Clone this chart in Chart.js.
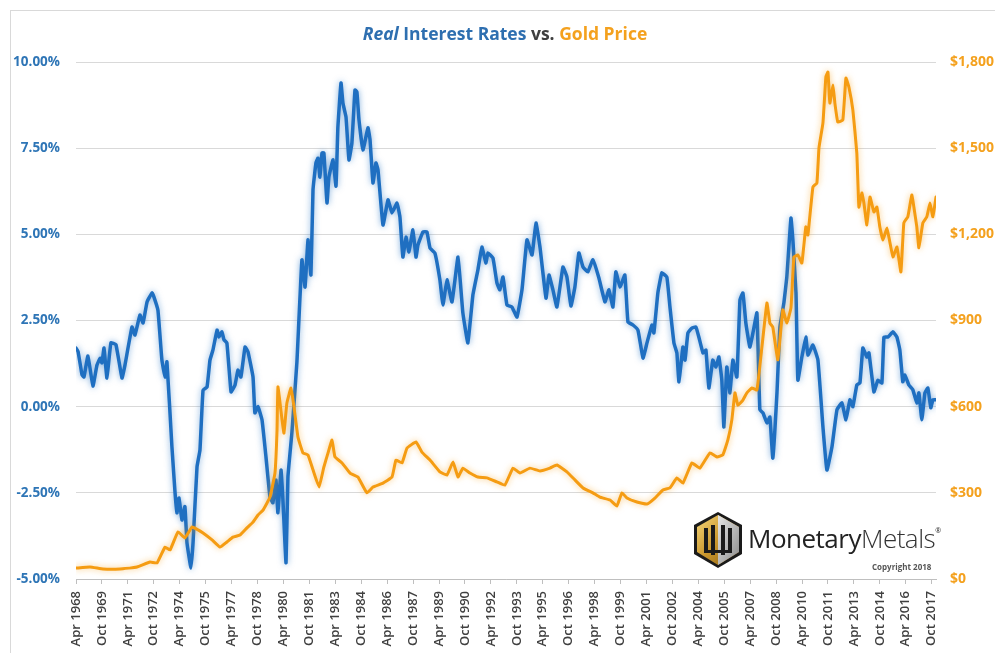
<!DOCTYPE html>
<html>
<head>
<meta charset="utf-8">
<script src="https://cdn.jsdelivr.net/npm/chart.js@4.4.1/dist/chart.umd.min.js"></script>
<style>
  html, body { margin:0; padding:0; background:#fff; overflow:hidden; }
  #wrap { position:relative; width:995px; height:653px; }
  #frame { position:absolute; left:10px; top:10px; width:1100px; height:800px; border:1px solid #d9d9d9; box-sizing:border-box; }
  canvas { position:absolute; left:0; top:0; }
  #title { position:absolute; left:0; width:1010px; top:21px; text-align:center; font-family:"Open Sans", sans-serif; font-weight:700; font-size:17.5px; color:#404040; }
  #title .b { color:#2E6FB0; }
  #title .o { color:#F4A11E; }
  #logo { position:absolute; left:692px; top:511px; width:245px; height:62px; }
  #logo svg { position:absolute; left:0; top:0; }
  #brand { position:absolute; left:56px; top:9px; font-family:"Open Sans", sans-serif; font-size:26px; color:#222; letter-spacing:-0.5px; white-space:nowrap; }
  #brand .m2 { font-weight:300; color:#333; }
  #brand sup { font-size:7px; vertical-align:top; position:relative; top:6px; }
  #copy { position:absolute; left:180px; top:50px; font-family:"Open Sans", sans-serif; font-size:8px; font-weight:700; color:#555; white-space:nowrap; }
</style>
</head>
<body>
<div id="wrap">
  <div id="frame"></div>
  <canvas id="c" width="995" height="653"></canvas>
  <div id="title"><i class="b">Real</i> <span class="b">Interest Rates</span> vs. <span class="o">Gold Price</span></div>
  <div id="logo">
    <svg width="52" height="58" viewBox="0 0 52 58">
      <defs>
        <linearGradient id="gl" x1="0" y1="0" x2="1" y2="1">
          <stop offset="0" stop-color="#f6d77a"/>
          <stop offset="0.5" stop-color="#c9962c"/>
          <stop offset="1" stop-color="#8a5f12"/>
        </linearGradient>
        <linearGradient id="gr" x1="0" y1="0" x2="1" y2="1">
          <stop offset="0" stop-color="#e6e6e6"/>
          <stop offset="1" stop-color="#8c8c8c"/>
        </linearGradient>
      </defs>
      <polygon points="26,1 50,14 50,43 26,57 2,43 2,14" fill="#1a1a1a"/>
      <polygon points="26,4 47,16 47,41 26,54 5,41 5,16" fill="url(#gl)"/>
      <polygon points="26,4 47,16 47,41 26,54" fill="url(#gr)"/>
      <rect x="12" y="17" width="4" height="24" fill="#1a1a1a"/>
      <rect x="19" y="14" width="4" height="30" fill="#1a1a1a"/>
      <rect x="29" y="14" width="4" height="30" fill="#1a1a1a"/>
      <rect x="36" y="17" width="4" height="24" fill="#1a1a1a"/>
      <rect x="12" y="39" width="28" height="3" fill="#1a1a1a"/>
    </svg>
    <div id="brand">Monetary<span class="m2">Metals</span><sup>®</sup></div>
    <div id="copy">Copyright 2018</div>
  </div>
</div>
<script>
// ---- tick labels (every 18 months) ----
const xTickLabels = ["Apr 1968","Oct 1969","Apr 1971","Oct 1972","Apr 1974","Oct 1975","Apr 1977","Oct 1978","Apr 1980","Oct 1981","Apr 1983","Oct 1984","Apr 1986","Oct 1987","Apr 1989","Oct 1990","Apr 1992","Oct 1993","Apr 1995","Oct 1996","Apr 1998","Oct 1999","Apr 2001","Oct 2002","Apr 2004","Oct 2005","Apr 2007","Oct 2008","Apr 2010","Oct 2011","Apr 2013","Oct 2014","Apr 2016","Oct 2017"];
const rateTicks = [-5, -2.5, 0, 2.5, 5, 7.5, 10];
const goldTicks = [0, 300, 600, 900, 1200, 1500, 1800];

// ---- Real interest rate (%), x = decimal year ----
const rateDates = [1968.25,1968.37,1968.60,1968.71,1968.94,1969.23,1969.46,1969.64,1969.75,1969.87,1970.04,1970.27,1970.56,1970.91,1971.08,1971.49,1971.66,1971.95,1972.13,1972.36,1972.65,1972.76,1972.99,1973.22,1973.40,1973.51,1973.80,1973.98,1974.09,1974.21,1974.38,1974.55,1974.67,1974.90,1975.02,1975.25,1975.42,1975.60,1975.83,1976.00,1976.17,1976.41,1976.52,1976.69,1976.81,1976.98,1977.22,1977.45,1977.62,1977.79,1978.03,1978.20,1978.49,1978.60,1978.78,1979.01,1979.24,1979.47,1979.64,1979.82,1979.93,1980.11,1980.22,1980.40,1980.51,1980.74,1981.03,1981.32,1981.50,1981.67,1981.84,1981.96,1982.13,1982.25,1982.36,1982.48,1982.59,1982.77,1982.88,1983.12,1983.29,1983.40,1983.58,1983.69,1983.87,1984.04,1984.21,1984.39,1984.50,1984.62,1984.85,1985.14,1985.26,1985.43,1985.60,1985.72,1986.01,1986.30,1986.53,1986.82,1986.99,1987.16,1987.34,1987.51,1987.74,1987.92,1988.03,1988.32,1988.55,1988.73,1989.01,1989.30,1989.48,1989.71,1990.00,1990.35,1990.63,1990.92,1991.21,1991.50,1991.73,1991.96,1992.08,1992.37,1992.60,1992.77,1992.95,1993.18,1993.47,1993.76,1994.05,1994.34,1994.63,1994.86,1995.09,1995.44,1995.61,1995.84,1996.07,1996.42,1996.65,1996.88,1997.11,1997.34,1997.58,1997.86,1998.15,1998.50,1998.85,1999.08,1999.31,1999.48,1999.72,2000.00,2000.18,2000.47,2000.76,2001.05,2001.28,2001.57,2001.68,2001.91,2002.14,2002.43,2002.61,2002.84,2003.01,2003.13,2003.36,2003.48,2003.65,2003.88,2004.11,2004.28,2004.52,2004.69,2004.86,2005.09,2005.27,2005.44,2005.61,2005.73,2005.90,2006.08,2006.25,2006.48,2006.66,2006.83,2007.00,2007.23,2007.41,2007.64,2007.81,2007.99,2008.22,2008.39,2008.56,2008.80,2008.97,2009.20,2009.37,2009.61,2009.72,2009.90,2010.01,2010.24,2010.47,2010.59,2010.88,2011.17,2011.46,2011.69,2011.98,2012.27,2012.56,2012.79,2013.02,2013.19,2013.42,2013.60,2013.77,2014.00,2014.12,2014.41,2014.64,2014.87,2014.99,2015.22,2015.51,2015.74,2015.91,2016.08,2016.20,2016.43,2016.66,2016.89,2017.01,2017.18,2017.36,2017.53,2017.70,2017.82,2017.99];
const rateValues = [1.70,1.60,0.92,0.86,1.47,0.60,1.20,1.40,1.27,1.70,0.83,1.85,1.80,0.83,1.20,2.31,2.08,2.66,2.43,3.04,3.30,3.18,2.80,1.35,0.86,1.30,-1.17,-2.50,-3.08,-2.65,-3.29,-2.90,-3.95,-4.68,-3.95,-1.75,-1.26,0.48,0.57,1.35,1.64,2.22,2.02,2.17,1.94,1.85,0.43,0.63,1.06,0.86,1.73,1.59,0.86,-0.18,0.00,-0.38,-1.46,-2.62,-2.79,-2.13,-3.08,-1.84,-2.70,-4.53,-2.04,-0.75,1.30,4.26,3.47,4.84,3.82,6.29,7.07,7.21,6.66,7.36,7.36,5.91,6.66,7.16,6.40,8.11,9.39,8.81,8.40,7.16,7.65,9.19,9.13,8.32,7.45,8.09,7.74,6.49,7.07,6.87,5.27,6.00,5.62,5.91,5.50,4.34,4.92,4.49,5.13,4.34,4.69,5.07,5.07,4.60,4.46,3.68,2.95,3.68,3.04,4.34,2.72,1.85,3.24,3.97,4.63,4.17,4.46,4.31,3.59,3.39,3.76,2.95,2.89,2.60,3.39,4.84,4.40,5.33,4.63,3.15,3.82,3.39,2.89,4.05,3.76,2.92,3.47,4.46,4.05,3.91,4.26,3.73,3.04,3.39,2.89,3.91,3.47,3.82,2.46,2.37,2.22,1.41,1.85,2.37,2.14,3.30,3.88,3.76,2.89,1.85,1.56,0.72,1.73,1.35,2.14,2.28,2.31,2.02,1.56,1.64,0.54,1.35,1.15,1.44,0.77,-0.59,1.15,0.40,1.35,0.86,3.10,3.30,2.43,1.73,2.14,2.72,-0.09,-0.18,-0.47,-0.30,-1.49,0.40,2.31,3.01,3.76,5.47,4.84,3.30,0.77,1.44,2.02,1.50,1.79,1.35,-0.59,-1.84,-1.17,-0.09,0.11,-0.38,0.20,0.00,0.63,0.69,1.70,1.44,1.56,0.43,0.77,0.69,2.02,2.02,2.17,2.02,1.64,0.72,0.92,0.63,0.49,0.11,0.40,-0.38,0.40,0.54,-0.03,0.20,0.20];

// ---- Gold price (USD), x = decimal year ----
const goldDates = [1968.25,1969.06,1969.81,1970.80,1971.78,1972.53,1972.94,1973.40,1973.69,1974.15,1974.55,1974.96,1975.31,1975.60,1976.12,1976.58,1976.98,1977.33,1977.74,1978.14,1978.49,1978.78,1979.07,1979.47,1979.76,1979.88,1979.93,1980.17,1980.28,1980.45,1980.69,1980.86,1981.09,1981.38,1981.67,1981.96,1982.31,1982.59,1982.83,1983.06,1983.23,1983.64,1984.10,1984.56,1985.08,1985.43,1986.01,1986.53,1986.76,1987.11,1987.40,1987.92,1988.26,1988.73,1989.30,1989.71,1990.06,1990.35,1990.63,1991.04,1991.50,1992.02,1992.60,1993.06,1993.53,1993.93,1994.51,1995.09,1995.67,1996.07,1996.65,1997.11,1997.58,1998.15,1998.56,1999.14,1999.54,1999.83,2000.12,2000.70,2001.28,2001.74,2002.20,2002.61,2003.01,2003.36,2003.88,2004.34,2004.92,2005.33,2005.67,2005.96,2006.19,2006.37,2006.54,2006.83,2007.06,2007.35,2007.64,2007.93,2008.22,2008.39,2008.56,2008.85,2009.14,2009.37,2009.61,2009.78,2010.01,2010.24,2010.47,2010.59,2010.88,2011.11,2011.23,2011.46,2011.63,2011.75,2011.86,2012.04,2012.15,2012.32,2012.61,2012.79,2012.96,2013.19,2013.42,2013.54,2013.71,2013.83,2014.00,2014.18,2014.41,2014.58,2014.75,2014.93,2015.16,2015.33,2015.51,2015.74,2015.97,2016.14,2016.37,2016.60,2016.72,2016.89,2017.01,2017.24,2017.47,2017.65,2017.82,2018.00];
const goldValues = [38,42,35,35,42,59,56,111,101,164,143,181,171,160,136,111,129,146,153,178,198,223,240,285,369,519,669,554,508,613,665,599,494,439,432,380,320,390,439,484,425,404,369,355,300,320,334,355,414,404,456,477,442,414,373,362,407,355,386,369,355,352,338,327,386,369,386,376,386,397,373,345,317,300,285,275,254,300,282,268,261,282,310,317,352,334,404,386,439,425,432,484,554,648,605,623,648,665,658,808,961,891,877,763,937,891,944,1121,1128,1100,1226,1198,1365,1379,1501,1588,1748,1765,1657,1720,1657,1591,1598,1744,1713,1633,1483,1295,1344,1309,1233,1330,1278,1295,1226,1180,1222,1173,1121,1156,1069,1240,1261,1337,1295,1226,1153,1240,1261,1309,1261,1330];

const BLUE = '#1F6FC1';
const ORANGE = '#F59C12';
const rateData = rateDates.map((d, i) => ({ x: d, y: rateValues[i] }));
const goldData = goldDates.map((d, i) => ({ x: d, y: goldValues[i] }));
const xTickValues = xTickLabels.map((_, i) => 1968.25 + i * 1.5);

const glow = {
  id: 'glow',
  beforeDatasetDraw(chart, args) {
    const ctx = chart.ctx;
    ctx.save();
    ctx.shadowColor = args.index === 0 ? 'rgba(245,156,18,0.55)' : 'rgba(31,111,193,0.55)';
    ctx.shadowBlur = 6;
  },
  afterDatasetDraw(chart) { chart.ctx.restore(); }
};

new Chart(document.getElementById('c'), {
  type: 'line',
  data: {
    datasets: [
      { label: 'Gold Price', data: goldData, yAxisID: 'yGold', borderColor: ORANGE, borderWidth: 3, pointRadius: 0, tension: 0.1, fill: false, borderJoinStyle: 'round', borderCapStyle: 'round' },
      { label: 'Real Interest Rates', data: rateData, yAxisID: 'yRate', borderColor: BLUE, borderWidth: 3.5, pointRadius: 0, tension: 0.1, fill: false, borderJoinStyle: 'round', borderCapStyle: 'round' }
    ]
  },
  options: {
    responsive: false,
    animation: false,
    events: [],
    layout: { padding: { top: 62, left: 0, right: 0, bottom: 0 } },
    plugins: { legend: { display: false }, tooltip: { enabled: false }, title: { display: false } },
    scales: {
      x: {
        type: 'linear',
        min: 1968.25,
        max: 2018.0,
        afterBuildTicks: s => { s.ticks = xTickValues.map(v => ({ value: v })); },
        afterFit: s => { s.height = 74; },
        ticks: {
          autoSkip: false, minRotation: 90, maxRotation: 90, padding: 7,
          color: '#404040', font: { family: 'Open Sans', size: 13, weight: '600' },
          callback: (v, i) => xTickLabels[i]
        },
        grid: { display: true, drawOnChartArea: false, drawTicks: true, tickLength: 5, color: '#BFBFBF' },
        border: { display: true, color: '#BFBFBF', width: 1 }
      },
      yRate: {
        type: 'linear', position: 'left', min: -5, max: 10,
        afterBuildTicks: s => { s.ticks = rateTicks.map(v => ({ value: v })); },
        afterFit: s => { s.width = 76; },
        ticks: {
          padding: 16, color: '#2E75B6', font: { family: 'Open Sans', size: 13.5, weight: '700' },
          callback: v => v.toFixed(2) + '%'
        },
        grid: { color: '#D9D9D9', drawTicks: false, lineWidth: 1 },
        border: { display: false }
      },
      yGold: {
        type: 'linear', position: 'right', min: 0, max: 1800,
        afterBuildTicks: s => { s.ticks = goldTicks.map(v => ({ value: v })); },
        afterFit: s => { s.width = 59; },
        ticks: {
          padding: 14, color: '#F4A11E', font: { family: 'Open Sans', size: 14, weight: '700' },
          callback: v => '$' + v.toLocaleString('en-US')
        },
        grid: { display: false, drawTicks: false },
        border: { display: false }
      }
    }
  },
  plugins: [glow]
});
</script>
</body>
</html>
